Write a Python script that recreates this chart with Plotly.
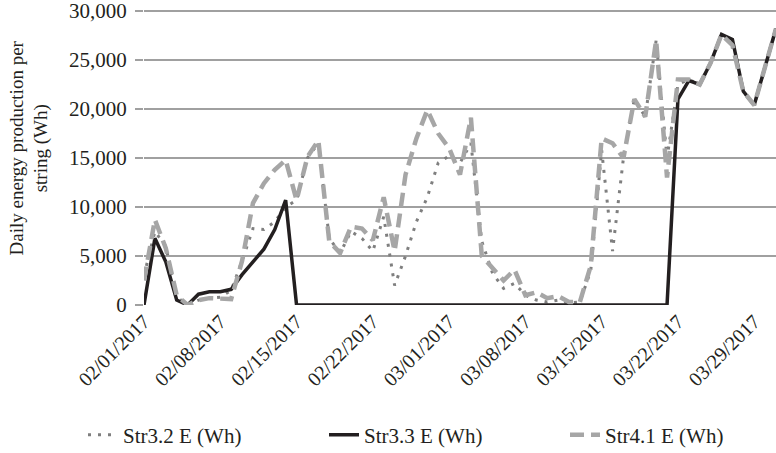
import pandas as pd
import plotly.graph_objects as go

dates = pd.date_range("2017-02-01", "2017-03-31", freq="D")

str32 = [3000, 7500, 6000, 800, 0, 500, 700, 800, 1500, 4500,
         7800, 7700, 8500, 10000, 10700, 15000, 16500, 6800, 5300, 7500,
         6800, 5500, 9000, 2000, 5000, 8500, 11000, 14500, 15200, 14500,
         16500, 6500, 3200, 1700, 2200, 1000, 500, 300, 500, 200,
         300, 3500, 15800, 5500, 15000, 21000, 19200, 27000, 15000, 22500,
         23000, 22500, 24700, 27600, 26500, 21800, 20400, 24300, 28200]

str33 = [0, 6800, 4400, 500, 0, 1100, 1350, 1350, 1600, 3100,
         4400, 5700, 7700, 10700] + [0] * 35 + [
         21000, 22900, 22500, 24700, 27600, 27100, 21800, 20400, 24300, 28200]

str41 = [2500, 8700, 5800, 1000, 0, 500, 700, 700, 600, 4500,
         10400, 12400, 13800, 14800, 10700, 15100, 16800, 6500, 5300, 8000,
         7800, 6600, 11000, 5500, 13300, 17000, 19900, 17500, 16000, 13300,
         19100, 5000, 3800, 2500, 3600, 1000, 1300, 700, 900, 300,
         300, 4000, 17000, 16500, 15000, 21000, 19200, 27000, 13000, 23000,
         23000, 22500, 24700, 27600, 26500, 21800, 20400, 24300, 28200]

names = ["Str3.2 E (Wh)", "Str3.3 E (Wh)", "Str4.1 E (Wh)"]
tick_dates = pd.date_range("2017-02-01", "2017-03-29", freq="7D")
tick_text = [d.strftime("%m/%d/%Y") for d in tick_dates]
y_ticks = [0, 5000, 10000, 15000, 20000, 25000, 30000]
y_max = 30300

FONT = "Liberation Serif, Times New Roman, serif"

fig = go.Figure()
fig.add_trace(go.Scatter(x=dates, y=str32, name=names[0], mode="lines",
                         line=dict(color="#7f7f7f", width=3, dash="3px,7px")))
fig.add_trace(go.Scatter(x=dates, y=str33, name=names[1], mode="lines",
                         line=dict(color="#231f20", width=3.5)))
fig.add_trace(go.Scatter(x=dates, y=str41, name=names[2], mode="lines",
                         line=dict(color="#a6a6a6", width=4.5, dash="14px,7px")))

fig.update_layout(
    width=776, height=453,
    margin=dict(l=144, r=0, t=8, b=148, autoexpand=False),
    paper_bgcolor="white", plot_bgcolor="white",
    font=dict(family=FONT, size=20, color="#231f20"),
    showlegend=True,
    legend=dict(orientation="h", xref="paper", yref="paper",
                x=(83 - 144) / 632, xanchor="left",
                y=(305 - 435) / 297, yanchor="middle",
                font=dict(size=21), entrywidth=196, entrywidthmode="pixels"),
    xaxis=dict(range=[dates[0], dates[-1]], tickvals=tick_dates, ticktext=tick_text,
               tickangle=-45, showgrid=False, zeroline=False, showline=False,
               tickfont=dict(size=20)),
    yaxis=dict(range=[0, y_max], tickvals=y_ticks, tickformat=",d",
               showgrid=True, gridcolor="#a0a0a0", gridwidth=1.5,
               zeroline=False, showline=False,
               ticks="outside", ticklen=8, tickcolor="#a0a0a0", tickwidth=1.5,
               ticklabelstandoff=4, ticklabeloverflow="allow",
               tickfont=dict(size=21)),
    annotations=[dict(text="Daily energy production per<br>string (Wh)",
                      xref="paper", yref="paper", x=(29 - 144) / 632, y=0.527,
                      xanchor="center", yanchor="middle", textangle=-90,
                      showarrow=False, font=dict(size=19))],
)

fig.write_html("out.html")
